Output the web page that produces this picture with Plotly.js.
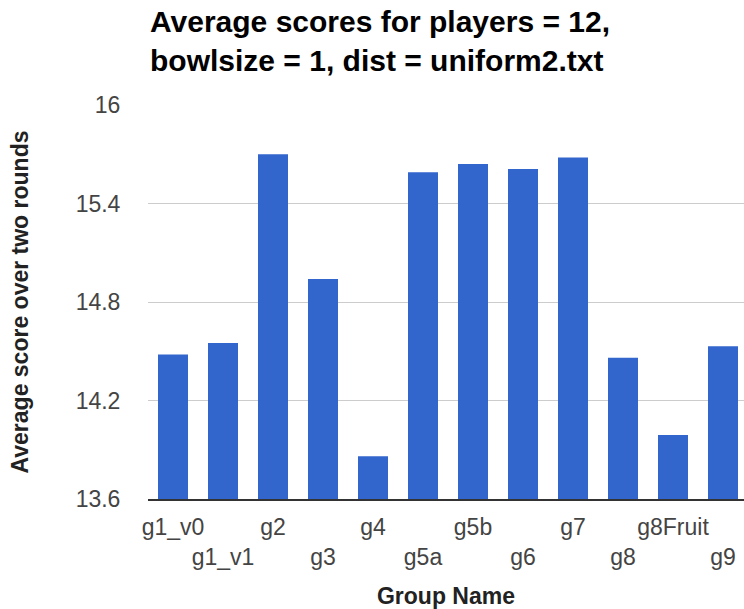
<!DOCTYPE html>
<html>
<head>
<meta charset="utf-8">
<script src="https://cdn.plot.ly/plotly-3.0.1.min.js"></script>
<style>
  html, body { margin: 0; padding: 0; background: #fff; }
  #chart { width: 744px; height: 609px; }
</style>
</head>
<body>
<div id="chart"></div>
<script>
// Group names along the x axis
const groups = ['g1_v0', 'g1_v1', 'g2', 'g3', 'g4', 'g5a', 'g5b', 'g6', 'g7', 'g8', 'g8Fruit', 'g9'];
// Average score over two rounds for each group
const scores = [14.48, 14.55, 15.70, 14.94, 13.86, 15.59, 15.64, 15.61, 15.68, 14.46, 13.99, 14.53];
// Value axis ticks
const yTicks = [13.6, 14.2, 14.8, 15.4, 16];
const yTickLabels = ['13.6', '14.2', '14.8', '15.4', '16'];

const FONT = 'Arial, "Liberation Sans", sans-serif';

// Alternate labels drop to a second row so long names do not collide
const staggered = groups.map((g, i) => (i % 2 === 1 ? '<br>' + g : g));

const trace = {
  type: 'bar',
  x: groups,
  y: scores,
  marker: { color: '#3366cc' },
  hoverinfo: 'x+y'
};

const layout = {
  width: 744,
  height: 609,
  margin: { l: 148, r: 0, t: 105, b: 110, pad: 0 },
  paper_bgcolor: '#ffffff',
  plot_bgcolor: '#ffffff',
  showlegend: false,
  bargap: 0.4,
  font: { family: FONT, color: '#444444' },
  title: {
    text: '<b>Average scores for players = 12,<br>bowlsize = 1, dist = uniform2.txt</b>',
    font: { family: FONT, size: 30, color: '#000000' },
    xref: 'container', yref: 'container',
    x: 150 / 744, xanchor: 'left',
    y: 1 - 32 / 609, yanchor: 'middle'
  },
  xaxis: {
    type: 'category',
    range: [-0.5, 11.42],
    tickmode: 'array',
    tickvals: groups,
    ticktext: staggered,
    tickangle: 0,
    tickfont: { family: FONT, size: 23, color: '#444444' },
    ticks: 'outside', ticklen: 6, tickcolor: 'rgba(0,0,0,0)',
    showgrid: false,
    showline: true, linecolor: '#333333', linewidth: 2,
    zeroline: false,
    fixedrange: true,
    title: {
      text: '<b>Group Name</b>',
      font: { family: FONT, size: 23, color: '#222222' },
      standoff: 19
    }
  },
  yaxis: {
    range: [13.6, 16],
    tickmode: 'array',
    tickvals: yTicks,
    ticktext: yTickLabels,
    tickfont: { family: FONT, size: 23, color: '#444444' },
    ticks: 'outside', ticklen: 22, tickcolor: 'rgba(0,0,0,0)',
    showgrid: true, gridcolor: '#cccccc', gridwidth: 1,
    zeroline: false,
    showline: false,
    fixedrange: true,
    title: {
      text: '<b>Average score over two rounds</b>',
      font: { family: FONT, size: 23, color: '#222222' },
      standoff: 40
    }
  }
};

Plotly.newPlot('chart', [trace], layout, { displayModeBar: false, staticPlot: true });
</script>
</body>
</html>
